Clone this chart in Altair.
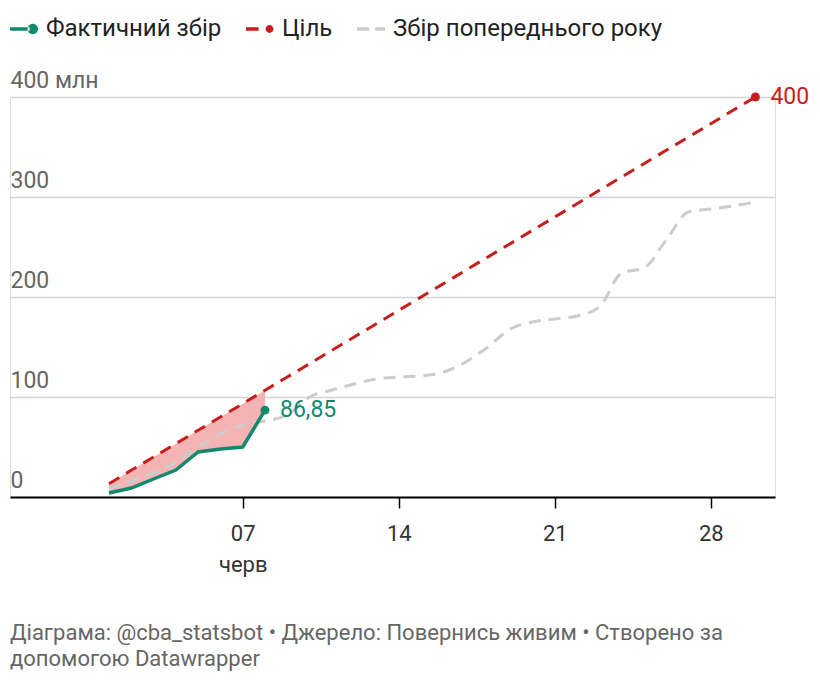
import altair as alt
import pandas as pd

# ---------------- data ----------------
days = list(range(1, 31))
actual_days = [1, 2, 3, 4, 5, 6, 7, 8]
actual = [4, 9, 18, 27, 45, 48, 50, 86.85]
target = [13.3, 26.7, 40, 53.3, 66.7, 80, 93.3, 106.7, 120, 133.3,
          146.7, 160, 173.3, 186.7, 200, 213.3, 226.7, 240, 253.3, 266.7,
          280, 293.3, 306.7, 320, 333.3, 346.7, 360, 373.3, 386.7, 400]
previous = [8, 16, 24, 35, 50, 63, 72, 76, 82, 100,
            107, 113, 118, 120, 121, 125, 135, 150, 168, 175,
            178, 181, 190, 224, 229, 257, 285, 288, 291, 295]

series_names = ["Фактичний збір", "Ціль", "Збір попереднього року"]
series_colors = ["#12896f", "#c71e1d", "#cccccc"]

end_label_days = [8, 30]
end_label_values = [86.85, 400]
end_label_texts = ["86,85", "400"]
end_label_series = ["Фактичний збір", "Ціль"]

x_tick_values = [7, 14, 21, 28]
x_tick_labels = ["07", "14", "21", "28"]
month_label = "черв"
y_tick_values = [0, 100, 200, 300, 400]
y_top_label = "400 млн"

footer = ["Діаграма: @cba_statsbot • Джерело: Повернись живим • Створено за",
          "допомогою Datawrapper"]

# ---------------- tables ----------------
df_actual = pd.DataFrame({"day": actual_days, "value": actual,
                          "series": series_names[0]})
df_target = pd.DataFrame({"day": days, "value": target, "series": series_names[1]})
df_prev = pd.DataFrame({"day": days, "value": previous, "series": series_names[2]})
df_all = pd.concat([df_actual, df_target, df_prev], ignore_index=True)
df_area = pd.DataFrame({"day": actual_days, "actual": actual,
                        "target": target[:len(actual_days)]})
df_end = pd.DataFrame({"day": end_label_days, "value": end_label_values,
                       "text": end_label_texts, "series": end_label_series})

# ---------------- scales / axes ----------------
lbl_parts = []
for v, t in zip(x_tick_values, x_tick_labels):
    if v == x_tick_values[0]:
        lbl_parts.append(f"datum.value == {v} ? ['{t}', '{month_label}']")
    else:
        lbl_parts.append(f"datum.value == {v} ? '{t}'")
x_label_expr = " : ".join(lbl_parts) + " : ''"

x_scale = alt.Scale(domain=[-3.44, 30.88], nice=False, zero=False)
y_scale = alt.Scale(domain=[0, 400], nice=False)

x_axis = alt.Axis(values=x_tick_values, labelExpr=x_label_expr, title=None,
                  grid=False, domainColor="#000000", domainWidth=2,
                  tickColor="#000000", tickWidth=1.5, tickSize=11,
                  labelPadding=15, labelFontSize=22, labelColor="#333333",
                  labelLineHeight=31, labelFlush=False, labelFont="Roboto")
y_axis = alt.Axis(values=y_tick_values, title=None,
                  labelExpr=f"datum.value == 400 ? '{y_top_label}' : datum.label",
                  domain=False, ticks=False, tickSize=0, labelPadding=0,
                  labelAlign="left", labelBaseline="alphabetic", labelOffset=-10,
                  gridColor="#d4d4d4", gridWidth=1.3, labelFontSize=23,
                  labelColor="#666666", labelFont="Roboto")

X = alt.X("day:Q", scale=x_scale, axis=x_axis)
Y = alt.Y("value:Q", scale=y_scale, axis=y_axis)

legend_symbols = [
    "M-1,-0.12 L0.4,-0.12 L0.4,0.12 L-1,0.12 Z "
    "M0.26,0 A0.37,0.37 0 1,0 1,0 A0.37,0.37 0 1,0 0.26,0 Z",
    "M-1,-0.12 L-0.1,-0.12 L-0.1,0.12 L-1,0.12 Z "
    "M0.4,0 A0.28,0.28 0 1,0 0.96,0 A0.28,0.28 0 1,0 0.4,0 Z",
    "M-1,-0.12 L-0.12,-0.12 L-0.12,0.12 L-1,0.12 Z "
    "M0.3,-0.12 L1,-0.12 L1,0.12 L0.3,0.12 Z",
]

leg = alt.Legend(orient="none", legendX=0, legendY=-82, direction="horizontal",
                 title=None, labelFontSize=24, labelColor="#222222",
                 labelFont="Roboto", symbolSize=784, symbolOpacity=1,
                 symbolStrokeWidth=0, labelOffset=8, columnPadding=24,
                 labelLimit=600)

base = alt.Chart(df_all)

area = alt.Chart(df_area).mark_area(color="#f5b4b4").encode(
    x=alt.X("day:Q", scale=x_scale, axis=x_axis),
    y=alt.Y("actual:Q", scale=y_scale, axis=y_axis),
    y2="target:Q",
)

prev_line = base.transform_filter(
    alt.datum.series == series_names[2]
).mark_line(color=series_colors[2], strokeWidth=3, strokeDash=[12, 8],
            interpolate="monotone").encode(x=X, y=Y)

target_line = base.transform_filter(
    alt.datum.series == series_names[1]
).mark_line(color=series_colors[1], strokeWidth=3, strokeDash=[12, 8]).encode(x=X, y=Y)

actual_line = base.transform_filter(
    alt.datum.series == series_names[0]
).mark_line(color=series_colors[0], strokeWidth=3.5).encode(x=X, y=Y)

legend_layer = base.mark_point(filled=True, opacity=0).encode(
    x=X, y=Y,
    color=alt.Color("series:N", scale=alt.Scale(domain=series_names, range=series_colors), legend=leg),
    shape=alt.Shape("series:N", scale=alt.Scale(domain=series_names, range=legend_symbols), legend=leg),
)

end_color = alt.Color("series:N", scale=alt.Scale(domain=series_names, range=series_colors), legend=None)

end_dots = alt.Chart(df_end).mark_circle(opacity=1, size=80).encode(
    x=X, y=Y, color=end_color)

end_text = alt.Chart(df_end).mark_text(align="left", baseline="middle", dx=15,
                                        fontSize=23, font="Roboto").encode(
    x=X, y=Y, text="text:N", color=end_color)

chart = alt.layer(area, prev_line, target_line, actual_line, legend_layer,
                  end_dots, end_text).properties(
    width=765, height=400,
    padding={"left": 2, "top": 89, "right": 37, "bottom": 174},
    autosize=alt.AutoSizeParams(type="none"),
    title=alt.TitleParams(text=footer, orient="bottom", anchor="start",
                          frame="group", fontSize=22, fontWeight="normal",
                          color="#666666", font="Roboto", offset=48,
                          lineHeight=26),
).configure_view(stroke=None).configure(font="Roboto").resolve_scale(color="shared")

chart.save("out.html", embed_options={"renderer": "svg", "actions": False})
